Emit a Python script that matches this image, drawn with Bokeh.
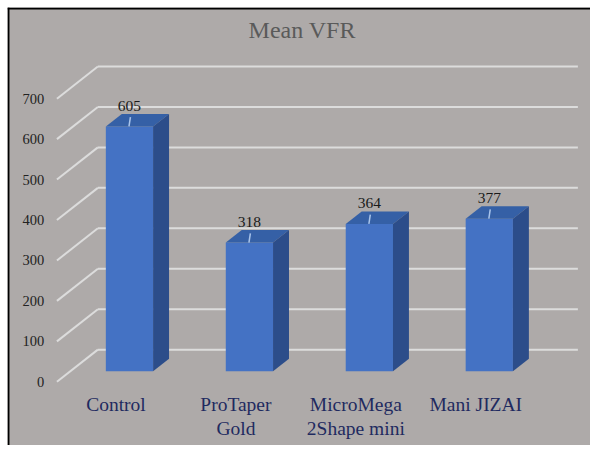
import numpy as np
from bokeh.plotting import figure
from bokeh.models import Range1d, Span
from bokeh.core.properties import value
from bokeh.embed import file_html
from bokeh.resources import INLINE

# ---- data ----
categories = ["Control", "ProTaper\nGold", "MicroMega\n2Shape mini", "Mani JIZAI"]
values = [605, 318, 364, 377]
y_ticks = [0, 100, 200, 300, 400, 500, 600, 700]
value_labels = ["605", "318", "364", "377"]
tick_labels = ["0", "100", "200", "300", "400", "500", "600", "700"]
title_text = "Mean VFR"

# ---- style ----
BG = "#aeaaa9"
GRID = "#dcdcdc"
FRONT = "#4472c4"
TOP = "#3560a6"
SIDE = "#2c4d8a"
FONT = "Liberation Serif"

# oblique projection: depth d in [0, 1] from front floor edge to back wall
DX = 0.341   # x shift (category units) for full depth
DY = 79.5    # y shift (value units) for full depth
D0, D1 = 0.33, 0.72   # bar front / back depth
HW = 0.197            # half bar width
WALL_X = -0.492       # left wall front x
GRID_END = 3.851

X0, X1 = -0.9043, 3.9562
Y0, Y1 = -157.5, 925.4

p = figure(width=590, height=445,
           x_range=Range1d(X0, X1), y_range=Range1d(Y0, Y1),
           x_axis_type=None, y_axis_type=None,
           output_backend="svg", toolbar_location=None,
           min_border_left=7, min_border_top=7, min_border_right=0, min_border_bottom=0,
           border_fill_color="white", background_fill_color=BG)
p.outline_line_color = None
p.grid.visible = False

# black frame lines (left / top)
p.add_layout(Span(location=X0 + 0.008, dimension="height", line_color="black", line_width=2))
p.add_layout(Span(location=Y1 - 2.4, dimension="width", line_color="black", line_width=2))

t = np.array(y_ticks, dtype=float)
# back wall gridlines
p.segment(x0=[WALL_X + DX] * len(t), y0=t + DY, x1=[GRID_END] * len(t), y1=t + DY,
          line_color=GRID, line_width=2)
# side wall diagonals
p.segment(x0=[WALL_X] * len(t), y0=t, x1=[WALL_X + DX] * len(t), y1=t + DY,
          line_color=GRID, line_width=2)
# tick labels
p.text(x=[-0.597] * len(t), y=t, text=tick_labels, text_align="right",
       text_baseline="middle", text_font=value(FONT), text_font_size="14.5px",
       text_color="#222222")

# bars
x = np.arange(len(values), dtype=float)
v = np.array(values, dtype=float)
dd = D1 - D0
L = x - HW + D0 * DX
R = x + HW + D0 * DX
B = np.full_like(v, D0 * DY)
T = v + D0 * DY

p.quad(left=L, right=R, bottom=B, top=T, fill_color=FRONT, line_color=None)
top_xs = [[l, r, r + dd * DX, l + dd * DX] for l, r in zip(L, R)]
top_ys = [[tt, tt, tt + dd * DY, tt + dd * DY] for tt in T]
p.patches(top_xs, top_ys, fill_color=TOP, line_color=None)
side_xs = [[r, r + dd * DX, r + dd * DX, r] for r in R]
side_ys = [[b, b + dd * DY, tt + dd * DY, tt] for b, tt in zip(B, T)]
p.patches(side_xs, side_ys, fill_color=SIDE, line_color=None)

# value labels with leader lines
xc = x + D0 * DX
p.segment(x0=xc + 0.008, y0=T + 23, x1=xc - 0.004, y1=T,
          line_color="#a9c4eb", line_width=1.5)
p.text(x=xc, y=T + 51, text=value_labels, text_align="center",
       text_baseline="middle", text_font=value(FONT), text_font_size="15.5px",
       text_color="#1a1a1a")

# category labels
p.text(x=x, y=[-31] * len(x), text=categories, text_align="center",
       text_baseline="top", text_font=value(FONT), text_font_size="19.5px",
       text_color="#1f2a60", text_line_height=1.15)

# title
p.text(x=[1.553], y=[868.7], text=[title_text], text_align="center",
       text_baseline="middle", text_font=value(FONT), text_font_size="24px",
       text_color="#5a5a5a")

open("out.html", "w").write(file_html(p, INLINE))
